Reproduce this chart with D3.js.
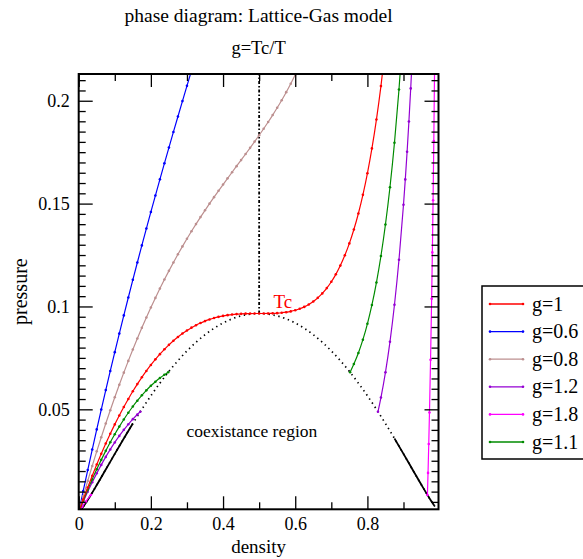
<!DOCTYPE html>
<html>
<head>
<meta charset="utf-8">
<script src="https://cdn.jsdelivr.net/npm/d3@7"></script>
<style>
  body { margin: 0; background: #fff; }
  svg { display: block; font-family: "Liberation Serif", "DejaVu Serif", serif; }
</style>
</head>
<body>
<svg id="chart" width="583" height="559"></svg>
<script>
// isotherms, [density, pressure]
const g06 = [[0,0],[0.0125,0.01033],[0.025,0.02047],[0.0375,0.03044],[0.05,0.04024],[0.0625,0.04988],[0.075,0.05934],
  [0.0875,0.06865],[0.1,0.0778],[0.1125,0.0868],[0.125,0.09565],[0.1375,0.10436],[0.15,0.11293],[0.1625,0.12137],
  [0.175,0.12968],[0.1875,0.13788],[0.2,0.14595],[0.2125,0.15392],[0.225,0.16178],[0.2375,0.16956],[0.25,0.17723],
  [0.2625,0.18484],[0.275,0.19236],[0.2875,0.19982],[0.3,0.20723],[0.3125,0.21459],[0.325,0.22191]];
const g08 = [[0,0],[0.0125,0.00771],[0.025,0.0152],[0.0375,0.02248],[0.05,0.02956],[0.0625,0.03643],[0.075,0.0431],
  [0.0875,0.04957],[0.1,0.05585],[0.1125,0.06194],[0.125,0.06783],[0.1375,0.07354],[0.15,0.07908],[0.1625,0.08443],
  [0.175,0.08961],[0.1875,0.09462],[0.2,0.09946],[0.2125,0.10415],[0.225,0.10868],[0.2375,0.11307],[0.25,0.1173],
  [0.2625,0.1214],[0.275,0.12536],[0.2875,0.1292],[0.3,0.13292],[0.3125,0.13653],[0.325,0.14003],[0.3375,0.14343],
  [0.35,0.14674],[0.3625,0.14997],[0.375,0.15313],[0.3875,0.15622],[0.4,0.15927],[0.4125,0.16227],[0.425,0.16525],
  [0.4375,0.1682],[0.45,0.17115],[0.4625,0.17411],[0.475,0.1771],[0.4875,0.18013],[0.5,0.18322],[0.5125,0.18639],
  [0.525,0.18965],[0.5375,0.19304],[0.55,0.19657],[0.5625,0.20027],[0.575,0.20417],[0.5875,0.20829],[0.6,0.21268],
  [0.6125,0.21737],[0.625,0.2224]];
const g10 = [[0,0],[0.0125,0.00613],[0.025,0.01203],[0.0375,0.0177],[0.05,0.02315],[0.0625,0.02836],[0.075,0.03336],
  [0.0875,0.03813],[0.1,0.04268],[0.1125,0.04702],[0.125,0.05114],[0.1375,0.05505],[0.15,0.05876],[0.1625,0.06226],
  [0.175,0.06556],[0.1875,0.06866],[0.2,0.07157],[0.2125,0.07429],[0.225,0.07682],[0.2375,0.07917],[0.25,0.08134],
  [0.2625,0.08334],[0.275,0.08517],[0.2875,0.08683],[0.3,0.08834],[0.3125,0.08969],[0.325,0.0909],[0.3375,0.09196],
  [0.35,0.09289],[0.3625,0.09369],[0.375,0.09438],[0.3875,0.09495],[0.4,0.09542],[0.4125,0.09578],[0.425,0.09607],
  [0.4375,0.09628],[0.45,0.09642],[0.4625,0.09651],[0.475,0.09656],[0.4875,0.09657],[0.5,0.09658],[0.5125,0.09658],
  [0.525,0.0966],[0.5375,0.09665],[0.55,0.09676],[0.5625,0.09693],[0.575,0.09721],[0.5875,0.0976],[0.6,0.09815],
  [0.6125,0.09886],[0.625,0.09979],[0.6375,0.10096],[0.65,0.10241],[0.6625,0.10419],[0.675,0.10634],[0.6875,0.10892],
  [0.7,0.11199],[0.7125,0.11561],[0.725,0.11987],[0.7375,0.12485],[0.75,0.13065],[0.7625,0.13739],[0.775,0.1452],
  [0.7875,0.15425],[0.8,0.16472],[0.8125,0.17683],[0.825,0.19086],[0.8375,0.20713],[0.85,0.22606]];
const g11Gas = [[0,0],[0.0125,0.00556],[0.025,0.01088],[0.0375,0.01597],[0.05,0.02081],[0.0625,0.02543],[0.075,0.02981],
  [0.0875,0.03397],[0.1,0.03789],[0.1125,0.04159],[0.125,0.04507],[0.1375,0.04833],[0.15,0.05137],[0.1625,0.0542],
  [0.175,0.05682],[0.1875,0.05923],[0.2,0.06143],[0.2125,0.06343],[0.225,0.06523],[0.2375,0.06684],[0.248,0.06805]];
const g11Liquid = [[0.752,0.06805],[0.7625,0.07204],[0.775,0.0774],[0.7875,0.08385],[0.8,0.09156],[0.8125,0.10074],
  [0.825,0.11163],[0.8375,0.12454],[0.85,0.13983],[0.8625,0.15797],[0.875,0.17958],[0.8875,0.20544],[0.9,0.23663]];
const g12Gas = [[0,0],[0.0125,0.00509],[0.025,0.00992],[0.0375,0.01452],[0.05,0.01887],[0.0625,0.02299],[0.075,0.02686],
  [0.0875,0.0305],[0.1,0.0339],[0.1125,0.03707],[0.125,0.04001],[0.1375,0.04273],[0.15,0.04522],[0.1625,0.04748],[0.1707,0.04885]];
const g12Liquid = [[0.8293,0.04885],[0.8375,0.05571],[0.85,0.06797],[0.8625,0.08282],[0.875,0.10081],[0.8875,0.12268],
  [0.9,0.14941],[0.905,0.16176],[0.91,0.17521],[0.915,0.1899],[0.92,0.20599],[0.925,0.22365],[0.93,0.24313]];
const g18Gas = [[0,0],[0.01,0.00269],[0.02,0.00521],[0.0337,0.00837]];
const g18Liquid = [[0.9663,0.00837],[0.968,0.01909],[0.97,0.03314],[0.972,0.04842],[0.975,0.07406],[0.978,0.10371],
  [0.98,0.12627],[0.982,0.15162],[0.984,0.1804],[0.986,0.21355],[0.988,0.25243]];

// coexistence curve
const coexistence = [[0.005,0.00091],[0.01,0.00204],[0.015,0.00328],[0.025,0.00594],[0.05,0.01318],[0.075,0.02075],
  [0.1,0.02836],[0.125,0.03584],[0.15,0.04308],[0.175,0.05002],[0.2,0.05658],[0.225,0.06273],[0.25,0.06843],
  [0.275,0.07366],[0.3,0.07838],[0.325,0.0826],[0.35,0.08626],[0.375,0.08939],[0.4,0.09197],[0.425,0.09398],
  [0.45,0.09542],[0.475,0.09629],[0.5,0.09658],[0.525,0.09629],[0.55,0.09542],[0.575,0.09398],[0.6,0.09197],
  [0.625,0.08939],[0.65,0.08626],[0.675,0.0826],[0.7,0.07838],[0.725,0.07366],[0.75,0.06843],[0.775,0.06273],
  [0.8,0.05658],[0.825,0.05002],[0.85,0.04308],[0.875,0.03584],[0.9,0.02836],[0.925,0.02075],[0.95,0.01318],
  [0.975,0.00594],[0.985,0.00328],[0.99,0.00204],[0.995,0.00091]];
const critRho = 0.5, critP = 0.09658;

const xMajor = [0, 0.2, 0.4, 0.6, 0.8];
const xLabels = ['0', '0.2', '0.4', '0.6', '0.8'];
const xMinor = [0.1, 0.3, 0.5, 0.7, 0.9];
const yMajor = [0.05, 0.1, 0.15, 0.2];
const yLabels = ['0.05', '0.1', '0.15', '0.2'];
const yMinor = d3.range(1, 43).map(i => i * 0.005).filter(v => Math.round(v * 1000) % 50 !== 0);

// legend order as in the figure
const legendItems = [
  { label: 'g=1', color: '#ff0000' },
  { label: 'g=0.6', color: '#0000ff' },
  { label: 'g=0.8', color: '#bc8f8f' },
  { label: 'g=1.2', color: '#9400d3' },
  { label: 'g=1.8', color: '#ff00ff' },
  { label: 'g=1.1', color: '#008b00' }
];
const curves = [
  { data: g06, color: '#0000ff' },
  { data: g08, color: '#bc8f8f' },
  { data: g18Gas, color: '#ff00ff' },
  { data: g18Liquid, color: '#ff00ff' },
  { data: g12Gas, color: '#9400d3' },
  { data: g12Liquid, color: '#9400d3' },
  { data: g11Gas, color: '#008b00' },
  { data: g11Liquid, color: '#008b00' },
  { data: g10, color: '#ff0000' }
];

const L = 78.7, R = 438.5, T = 74, B = 509.3;
const x = d3.scaleLinear().domain([0, 0.997]).range([L, R]);
const y = d3.scaleLinear().domain([0.0014, 0.213]).range([B, T]);

const svg = d3.select('#chart');

svg.append('clipPath').attr('id', 'plot-clip')
  .append('rect').attr('x', L).attr('y', T).attr('width', R - L).attr('height', B - T);

const plot = svg.append('g').attr('clip-path', 'url(#plot-clip)');

const line = d3.line().x(d => x(d[0])).y(d => y(d[1])).curve(d3.curveMonotoneX);

// coexistence: dotted in the middle, dense (solid) near the ends
plot.append('path')
  .attr('d', line(coexistence))
  .attr('fill', 'none').attr('stroke', '#000').attr('stroke-width', 1.7)
  .attr('stroke-dasharray', '1.4,3.6');
plot.append('path')
  .attr('d', line(coexistence.filter(d => d[0] <= 0.15)))
  .attr('fill', 'none').attr('stroke', '#000').attr('stroke-width', 1.8);
plot.append('path')
  .attr('d', line(coexistence.filter(d => d[0] >= 0.86 && d[0] <= 0.985)))
  .attr('fill', 'none').attr('stroke', '#000').attr('stroke-width', 1.8);

// vertical line through critical density
plot.append('line')
  .attr('x1', x(critRho)).attr('x2', x(critRho))
  .attr('y1', y(critP)).attr('y2', T)
  .attr('stroke', '#000').attr('stroke-width', 1.8)
  .attr('stroke-dasharray', '3,2,1.5,2');

curves.forEach(c => {
  plot.append('path')
    .attr('d', line(c.data))
    .attr('fill', 'none').attr('stroke', c.color).attr('stroke-width', 1.2);
  plot.append('g').selectAll('circle').data(c.data).join('circle')
    .attr('cx', d => x(d[0])).attr('cy', d => y(d[1])).attr('r', 1.3)
    .attr('fill', c.color);
});

// annotations
svg.append('text').attr('x', x(0.54)).attr('y', y(0.0992))
  .attr('fill', '#ff0000').attr('font-size', 19).text('Tc');
svg.append('text').attr('x', x(0.48)).attr('y', y(0.0367))
  .attr('text-anchor', 'middle').attr('font-size', 17.5).text('coexistance region');

// axes, ticks pointing inward on all four sides
const styleAxis = g => {
  g.select('.domain').remove();
  g.selectAll('.tick line').attr('stroke', '#000').attr('stroke-width', 1.3);
  g.selectAll('.tick text').attr('font-size', 18).attr('font-family', '"Liberation Serif", serif').attr('fill', '#000');
};

svg.append('g').attr('transform', `translate(0,${B})`)
  .call(d3.axisBottom(x).tickValues(xMajor).tickFormat((d, i) => xLabels[i]).tickSize(-13).tickPadding(8))
  .call(styleAxis);
svg.append('g').attr('transform', `translate(0,${B})`)
  .call(d3.axisBottom(x).tickValues(xMinor).tickFormat('').tickSize(-7))
  .call(styleAxis);
svg.append('g').attr('transform', `translate(0,${T})`)
  .call(d3.axisTop(x).tickValues(xMajor).tickFormat('').tickSize(-13))
  .call(styleAxis);
svg.append('g').attr('transform', `translate(0,${T})`)
  .call(d3.axisTop(x).tickValues(xMinor).tickFormat('').tickSize(-7))
  .call(styleAxis);

svg.append('g').attr('transform', `translate(${L},0)`)
  .call(d3.axisLeft(y).tickValues(yMajor).tickFormat((d, i) => yLabels[i]).tickSize(-14).tickPadding(9))
  .call(styleAxis);
svg.append('g').attr('transform', `translate(${L},0)`)
  .call(d3.axisLeft(y).tickValues(yMinor).tickFormat('').tickSize(-7))
  .call(styleAxis);
svg.append('g').attr('transform', `translate(${R},0)`)
  .call(d3.axisRight(y).tickValues(yMajor).tickFormat('').tickSize(-14))
  .call(styleAxis);
svg.append('g').attr('transform', `translate(${R},0)`)
  .call(d3.axisRight(y).tickValues(yMinor).tickFormat('').tickSize(-7))
  .call(styleAxis);

svg.append('rect')
  .attr('x', L).attr('y', T).attr('width', R - L).attr('height', B - T)
  .attr('fill', 'none').attr('stroke', '#000').attr('stroke-width', 2);

// titles
svg.append('text').attr('x', (L + R) / 2).attr('y', 22)
  .attr('text-anchor', 'middle').attr('font-size', 19.5).text('phase diagram: Lattice-Gas model');
svg.append('text').attr('x', (L + R) / 2).attr('y', 54)
  .attr('text-anchor', 'middle').attr('font-size', 18.5).text('g=Tc/T');
svg.append('text').attr('x', (L + R) / 2).attr('y', 553)
  .attr('text-anchor', 'middle').attr('font-size', 19).text('density');
svg.append('text').attr('transform', `translate(27,${(T + B) / 2}) rotate(-90)`)
  .attr('text-anchor', 'middle').attr('font-size', 20).text('pressure');

// legend
const legend = svg.append('g');
legend.append('rect').attr('x', 482).attr('y', 286).attr('width', 140).attr('height', 173)
  .attr('fill', '#fff').attr('stroke', '#000').attr('stroke-width', 1.5);
legendItems.forEach((item, i) => {
  const ly = 304 + i * 27.6;
  legend.append('line').attr('x1', 490).attr('x2', 523).attr('y1', ly).attr('y2', ly)
    .attr('stroke', item.color).attr('stroke-width', 1.3);
  legend.selectAll(null).data([490, 523]).join('circle')
    .attr('cx', d => d).attr('cy', ly).attr('r', 1.3).attr('fill', item.color);
  legend.append('text').attr('x', 532).attr('y', ly + 6.5)
    .attr('font-size', 20).text(item.label);
});
</script>
</body>
</html>
